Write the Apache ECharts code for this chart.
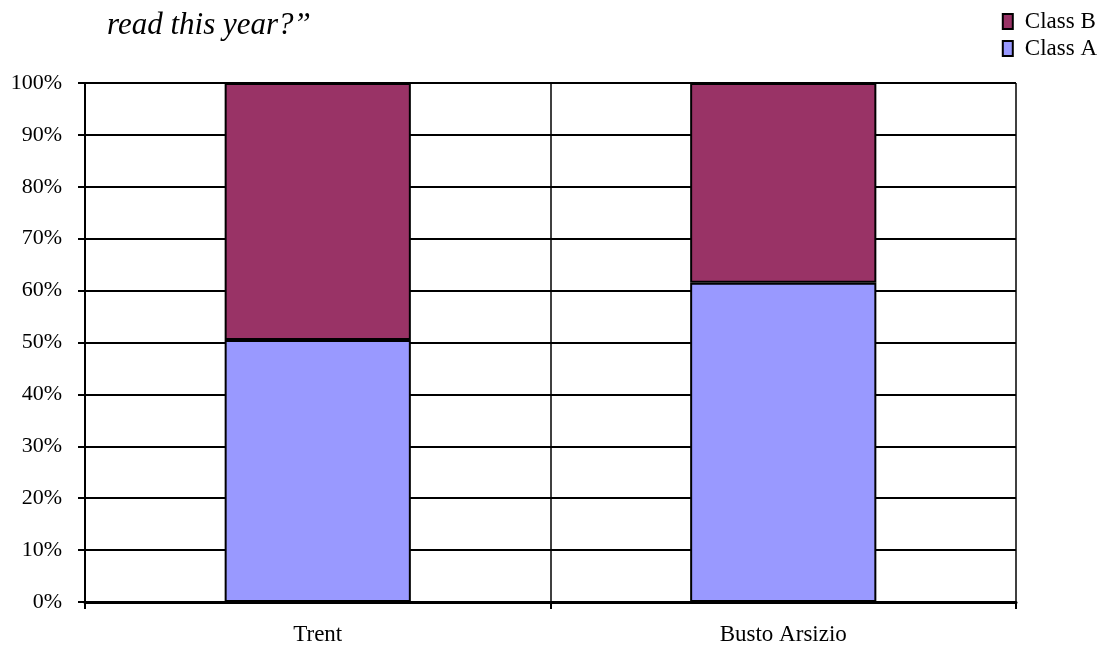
<!DOCTYPE html>
<html><head><meta charset="utf-8">
<script src="https://cdn.jsdelivr.net/npm/echarts@6/dist/echarts.min.js"></script>
<style>html,body{margin:0;padding:0;background:#fff}#c{width:1110px;height:649px}</style>
</head><body><div id="c"></div>
<script>
const categories = ['Trent', 'Busto Arsizio'];
const classA = [50.5, 61.5];
const classB = [49.5, 38.5];
const yTicks = [0, 10, 20, 30, 40, 50, 60, 70, 80, 90, 100];
const titleText = 'read this year?\u201d';

const font = '"Liberation Serif", "Times New Roman", serif';
const chart = echarts.init(document.getElementById('c'));
chart.setOption({
  animation: false,
  backgroundColor: '#fff',
  title: {
    text: titleText, left: 102, top: 5,
    textStyle: { fontFamily: font, fontStyle: 'italic', fontWeight: 'normal', fontSize: 31, color: '#000' }
  },
  legend: {
    data: ['Class B', 'Class A'], orient: 'vertical', right: 8, top: 5,
    itemWidth: 10, itemHeight: 15, itemGap: 4, icon: 'rect',
    textStyle: { fontFamily: font, fontSize: 23, color: '#000', padding: [0, 0, 0, 7] }
  },
  grid: { left: 85, right: 94, top: 83, bottom: 47, containLabel: false },
  xAxis: {
    type: 'category', data: categories, boundaryGap: true,
    axisLine: { lineStyle: { color: '#000', width: 3 } },
    axisTick: { show: true, length: 7, lineStyle: { color: '#000', width: 2 } },
    axisLabel: { fontFamily: font, fontSize: 23, color: '#000', margin: 21 },
    splitLine: { show: true, lineStyle: { color: '#000', width: 1.5 } }
  },
  yAxis: {
    type: 'value', min: 0, max: 100, interval: 10,
    axisLine: { show: true, lineStyle: { color: '#000', width: 2 } },
    axisTick: { show: true, inside: false, length: 7, lineStyle: { color: '#000', width: 2 } },
    axisLabel: { fontFamily: font, fontSize: 22, color: '#000', margin: 23, padding: [0, 0, 7, 0],
      formatter: v => yTicks.includes(v) ? v + '%' : '' },
    splitLine: { show: true, lineStyle: { color: '#000', width: 2 } }
  },
  series: [
    { name: 'Class A', type: 'bar', stack: 's', data: classA, barWidth: '40%',
      itemStyle: { color: '#9999FF', borderColor: '#000', borderWidth: 2 } },
    { name: 'Class B', type: 'bar', stack: 's', data: classB, barWidth: '40%',
      itemStyle: { color: '#993366', borderColor: '#000', borderWidth: 2 } }
  ]
});
</script></body></html>
